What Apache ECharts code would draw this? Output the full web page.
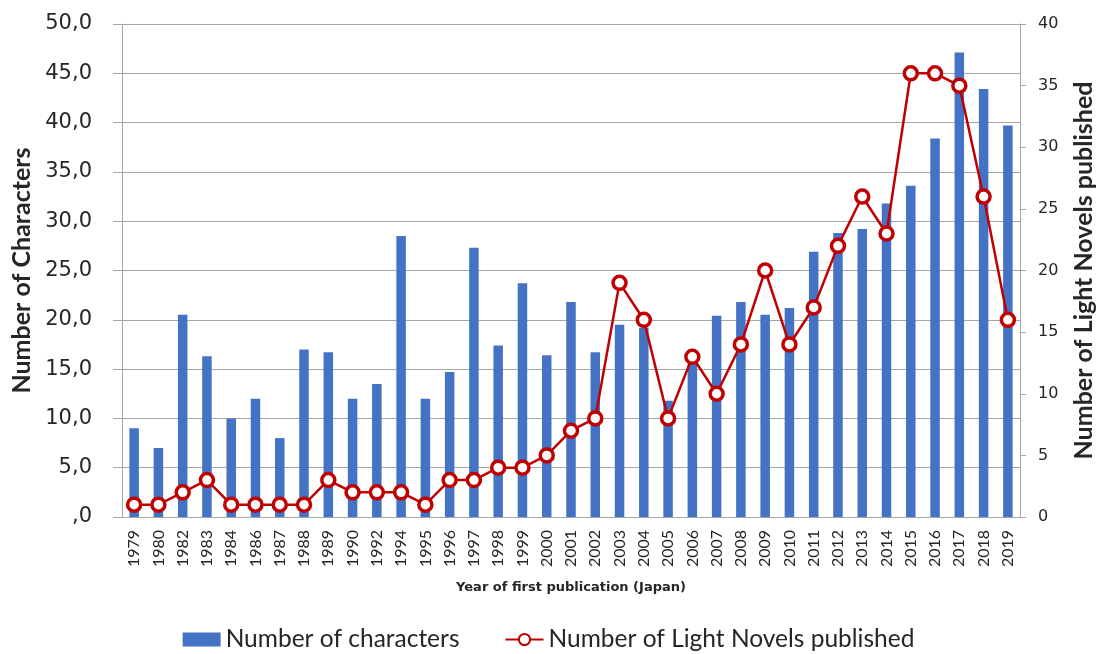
<!DOCTYPE html>
<html>
<head>
<meta charset="utf-8">
<script src="https://cdn.jsdelivr.net/npm/echarts@6/dist/echarts.min.js"></script>
<style>
  html, body { margin: 0; padding: 0; background: #fff; }
  #box { width: 1097px; height: 654px; }
</style>
</head>
<body>
<div id="box"></div>
<script>
// years of first publication (Japan)
const years = ['1979', '1980', '1982', '1983', '1984', '1986', '1987', '1988', '1989', '1990',
  '1992', '1994', '1995', '1996', '1997', '1998', '1999', '2000', '2001', '2002',
  '2003', '2004', '2005', '2006', '2007', '2008', '2009', '2010', '2011', '2012',
  '2013', '2014', '2015', '2016', '2017', '2018', '2019']

// bars, left axis
const characters = [9.0, 7.0, 20.5, 16.3, 10.0, 12.0, 8.0, 17.0, 16.7, 12.0,
  13.5, 28.5, 12.0, 14.7, 27.3, 17.4, 23.7, 16.4, 21.8, 16.7,
  19.5, 19.2, 11.8, 16.0, 20.4, 21.8, 20.5, 21.2, 26.9, 28.8,
  29.2, 31.8, 33.6, 38.4, 47.1, 43.4, 39.7]

// line, right axis
const novels = [1, 1, 2, 3, 1, 1, 1, 1, 3, 2,
  2, 2, 1, 3, 3, 4, 4, 5, 7, 8,
  19, 16, 8, 13, 10, 14, 20, 14, 17, 22,
  26, 23, 36, 36, 35, 26, 16]

const font = 'Lato'
const tickFont = 'DejaVu Sans'
const textColor = '#262626'
const gray = '#a6a6a6'

const myChart = echarts.init(document.getElementById('box'))
myChart.setOption({
  animation: false,
  textStyle: { fontFamily: font },
  grid: { left: 122, right: 77, top: 24, bottom: 137, outerBoundsMode: 'none' },
  legend: {
    bottom: -3,
    left: 'center',
    itemGap: 45,
    itemWidth: 38,
    itemHeight: 14,
    textStyle: { fontSize: 24.5, color: textColor, fontFamily: font },
    data: [
      { name: 'Number of characters', icon: 'rect' },
      { name: 'Number of Light Novels published' }
    ]
  },
  xAxis: {
    type: 'category',
    data: years,
    name: 'Year of first publication (Japan)',
    nameLocation: 'middle',
    nameGap: 64,
    nameTextStyle: { fontSize: 13, fontWeight: 'bold', color: textColor, fontFamily: tickFont },
    axisLine: { lineStyle: { color: gray } },
    axisTick: { length: 6, lineStyle: { color: gray } },
    axisLabel: { rotate: 90, interval: 0, fontSize: 16, color: textColor, margin: 13 }
  },
  yAxis: [
    {
      type: 'value',
      min: 0,
      max: 50,
      interval: 5,
      name: 'Number of Characters',
      nameLocation: 'middle',
      nameRotate: 90,
      nameGap: 88,
      nameTextStyle: { fontSize: 25, fontWeight: 'bold', color: textColor },
      axisLine: { show: true, lineStyle: { color: gray } },
      axisTick: { show: true, length: 9, lineStyle: { color: gray } },
      splitLine: { lineStyle: { color: gray } },
      axisLabel: {
        fontSize: 21,
        fontFamily: tickFont,
        color: textColor,
        margin: 30,
        formatter: v => (v === 0 ? ',0' : v.toFixed(1).replace('.', ','))
      }
    },
    {
      type: 'value',
      min: 0,
      max: 40,
      interval: 5,
      name: 'Number of Light Novels published',
      nameLocation: 'middle',
      nameRotate: 90,
      nameGap: 51,
      nameTextStyle: { fontSize: 25, fontWeight: 'bold', color: textColor },
      axisLine: { show: true, lineStyle: { color: gray } },
      axisTick: { show: true, length: 6, lineStyle: { color: gray } },
      splitLine: { show: false },
      axisLabel: { fontSize: 16, fontFamily: tickFont, color: textColor, margin: 18 }
    }
  ],
  series: [
    {
      name: 'Number of characters',
      type: 'bar',
      data: characters,
      barWidth: 9.5,
      itemStyle: { color: '#4472c4' }
    },
    {
      name: 'Number of Light Novels published',
      type: 'line',
      yAxisIndex: 1,
      data: novels,
      symbol: 'circle',
      symbolSize: 13,
      lineStyle: { color: '#c00000', width: 2.5 },
      itemStyle: { color: '#fff', borderColor: '#c00000', borderWidth: 3.5 }
    }
  ]
})
</script>
</body>
</html>
